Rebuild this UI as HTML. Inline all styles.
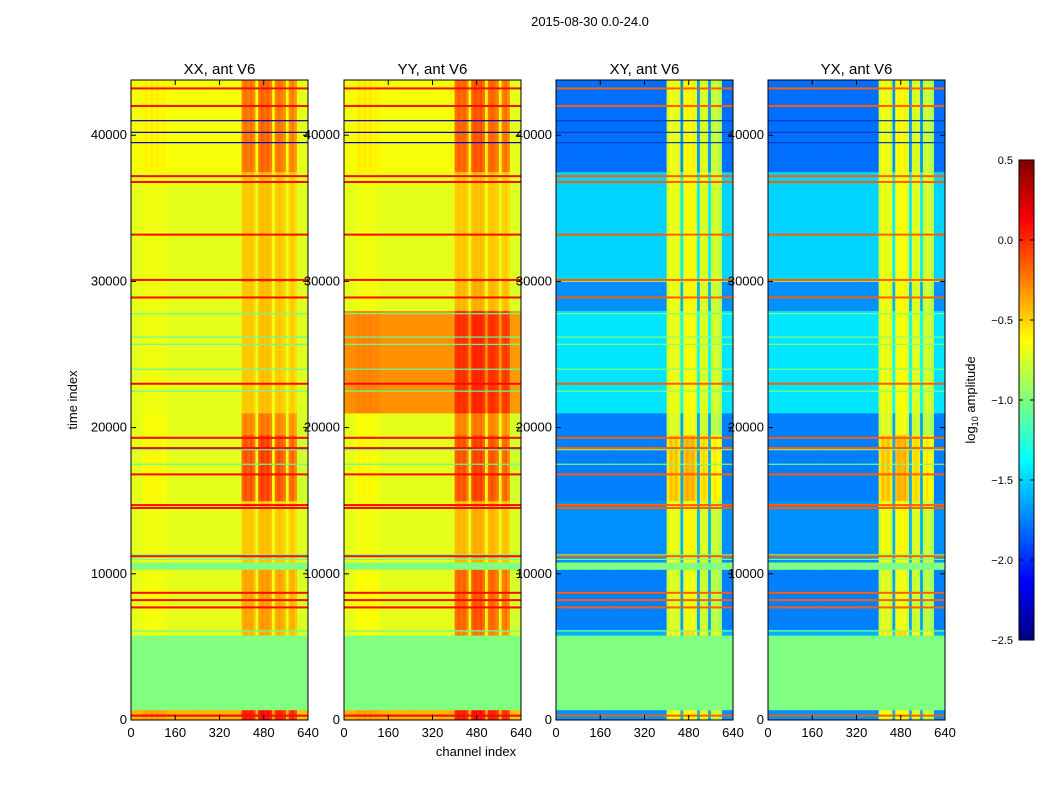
<!DOCTYPE html>
<html><head><meta charset="utf-8">
<style>
body{margin:0;background:#fff;width:1050px;height:800px;overflow:hidden;font-family:"Liberation Sans",sans-serif;}
svg text{font-family:"Liberation Sans",sans-serif;}
</style></head>
<body>
<svg id="chart" width="1050" height="800" xmlns="http://www.w3.org/2000/svg">
<text x="590" y="26" font-size="13" text-anchor="middle">2015-08-30 0.0-24.0</text>
<text x="476" y="756" font-size="13" text-anchor="middle">channel index</text>
<text transform="translate(77,400) rotate(-90)" font-size="13" text-anchor="middle">time index</text>
<text transform="translate(975,400) rotate(-90)" font-size="13" text-anchor="middle">log<tspan font-size="9" dy="3">10</tspan><tspan dy="-3"> amplitude</tspan></text>
</svg>
<script>
const panelNames=["XX, ant V6","YY, ant V6","XY, ant V6","YX, ant V6"];
const timeBreaks=[0,700,5800,6200,10300,10800,15000,19500,21000,28000,30000,30200,37500,43776];
const segActive=[1,0,1,1,0,1,1,1,1,1,1,1,1];
const baseXX=[-0.4,-1.0,-0.7,-0.7,-1.0,-0.7,-0.7,-0.7,-0.7,-0.7,-0.7,-0.7,-0.65];
const baseYY=[-0.4,-1.0,-0.7,-0.7,-1.0,-0.7,-0.7,-0.7,-0.3,-0.7,-0.7,-0.7,-0.65];
const baseXY=[-1.7,-1.0,-1.6,-1.75,-1.0,-1.7,-1.75,-1.75,-1.45,-1.7,-0.9,-1.5,-1.8];
const actXX=[0.9,0,0.6,0.7,0,0.5,1.2,0.9,0.5,0.5,0.9,0.5,0.9];
const actYY=[0.9,0,0.9,1.1,0,0.6,1.2,0.9,0.6,0.6,0.8,0.5,1.0];
const actXY=[1,0,1,1,0,1,1.25,1,0.75,1,0.3,0.8,1.1];
const profPar=[0,0,0,0,0.05,0.08,0.04,0.08,0.05,0.08,0.04,0.06,0.04,0,0,0,0,0,0,0,0,0,0,0,0,0,0,0,0,0,0,0,0,0,0,0,0,0,0,0,
0.45,0.5,0.45,0.5,0.4,0,0.5,0.55,0.5,0.55,0.45,0.05,0.45,0.5,0.45,0.4,0,0.4,0.45,0.35,-0.05,-0.05,-0.05,-0.05];
const profCross=[0,0,0,0,0,0,0,0,0,0,0,0,0,0,0,0,0,0,0,0,0,0,0,0,0,0,0,0,0,0,0,0,0,0,0,0,0,0,0,0,
0.95,1.05,1.0,1.05,0.95,0.1,1.05,1.1,1.05,1.1,1.0,0.1,0.95,1.0,0.95,0.1,0.9,0.95,0.9,0.85,0,0,0,0];
const redLines=[300,7700,8200,8700,11200,14500,14700,16800,18600,19300,23000,28900,30100,33200,36800,37200,42000,43200];
const cyanLines=[6100,11000,11300,17500,18500,22500,24000,25700,26200,27800];
const blueLines=[39500,40200,41000];
const xTicks=[0,160,320,480,640];
const yTicks=[0,10000,20000,30000,40000];
const cbTicks=[0.5,0.0,-0.5,-1.0,-1.5,-2.0,-2.5];

const NS="http://www.w3.org/2000/svg";
const svg=document.getElementById('chart');
const panelX=[131,344,556,768], PW=177, PT=80, PB=720;
const yScale=t=>PB-t*(PB-PT)/43776;
const xScale=(c,px)=>px+c*PW/640;
function jet(v){let t=Math.max(0,Math.min(1,(v+2.5)/3));const c=x=>Math.round(255*Math.max(0,Math.min(1,1.5-Math.abs(x))));return `rgb(${c(4*t-3)},${c(4*t-2)},${c(4*t-1)})`;}
function mk(tag,a,parent){const e=document.createElementNS(NS,tag);for(const k in a)e.setAttribute(k,a[k]);(parent||svg).appendChild(e);return e;}
const bases=[baseXX,baseYY,baseXY,baseXY];
const acts=[actXX,actYY,actXY,actXY];
const profs=[profPar,profPar,profCross,profCross];
panelNames.forEach((nm,p)=>{
  const px=panelX[p];
  const g=mk('g',{});
  
  
  const nb=profs[p].length;
  for(let s=0;s<timeBreaks.length-1;s++){
    const y1=yScale(timeBreaks[s+1]),y0=yScale(timeBreaks[s]);
    for(let b=0;b<nb;b++){
      const v=bases[p][s]+(segActive[s]?profs[p][b]*acts[p][s]:0);
      const r=mk('rect',{x:xScale(b*640/nb,px),y:y1,width:PW/nb+0.4,height:y0-y1+0.4,fill:jet(v)},g);
      
      
    }
  }
  cyanLines.forEach(t=>{const l=mk('rect',{x:px,y:yScale(t)-0.5,width:PW,height:1.2,fill:p<2?'#60ffa0':'#80ff80'},g);
    });
  redLines.forEach(t=>{const l=mk('rect',{x:px,y:yScale(t)-1,width:PW,height:2,fill:jet(p<2?0.1:-0.15)},g);
    });
  blueLines.forEach(t=>{const l=mk('rect',{x:px,y:yScale(t)-0.5,width:PW,height:1.2,fill:p<2?'#0000c0':'#0040c0'},g);
    });
  const fr=mk('rect',{x:px,y:PT,width:PW,height:PB-PT,fill:'none',stroke:'#000','stroke-width':1});
  
  const tt=mk('text',{x:px+PW/2,y:74,'font-size':15,'text-anchor':'middle'});tt.textContent=nm;
  
  xTicks.forEach(c=>{const x=xScale(c,px);
    mk('line',{x1:x,x2:x,y1:PB,y2:PB-5,stroke:'#000'});mk('line',{x1:x,x2:x,y1:PT,y2:PT+5,stroke:'#000'});
    const t=mk('text',{x:x,y:PB+17,'font-size':13,'text-anchor':'middle'});t.textContent=c;
    });
  yTicks.forEach(v=>{const y=yScale(v);
    mk('line',{x1:px,x2:px+5,y1:y,y2:y,stroke:'#000'});mk('line',{x1:px+PW,x2:px+PW-5,y1:y,y2:y,stroke:'#000'});
    const t=mk('text',{x:px-4,y:y+4,'font-size':13,'text-anchor':'end'});t.textContent=v;
    });
});
// colorbar
const cbX=1019,cbW=15,cbT=160,cbB=640;
const cbScale=v=>cbB-(v+2.5)/3*(cbB-cbT);
const cg=mk('g',{});
for(let i=0;i<120;i++){const v=-2.5+3*(i+0.5)/120;mk('rect',{x:cbX,y:cbScale(-2.5+3*(i+1)/120),width:cbW,height:(cbB-cbT)/120+0.5,fill:jet(v)},cg);}
mk('rect',{x:cbX,y:cbT,width:cbW,height:cbB-cbT,fill:'none',stroke:'#000'},cg);
cbTicks.forEach(v=>{const y=cbScale(v);
  mk('line',{x1:cbX,x2:cbX+4,y1:y,y2:y,stroke:'#000'},cg);mk('line',{x1:cbX+cbW,x2:cbX+cbW-4,y1:y,y2:y,stroke:'#000'},cg);
  const t=mk('text',{x:1013,y:y+4,'font-size':11,'text-anchor':'end'},cg);t.textContent=v.toFixed(1).replace('-','\u2212');
  });
</script>
</body></html>
